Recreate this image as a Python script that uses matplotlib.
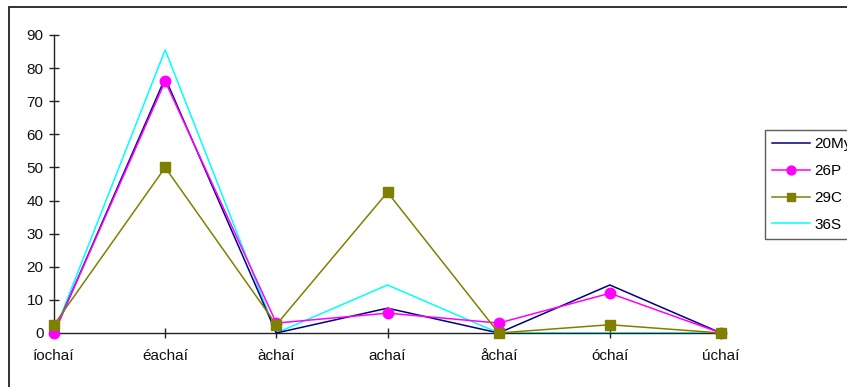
import matplotlib
matplotlib.use("Agg")
import matplotlib.pyplot as plt
from matplotlib.patches import Rectangle

plt.rcParams['font.family'] = ['Liberation Sans', 'DejaVu Sans']

categories = ["íochaí", "éachaí", "àchaí", "achaí", "åchaí", "óchaí", "úchaí"]
series_names = ["20My", "26P", "29C", "36S"]
s20My = [0, 77, 0, 7.5, 0, 14.5, 0]
s26P = [0, 76, 3, 6, 3, 12, 0]
s29C = [2.5, 50, 2.5, 42.5, 0, 2.5, 0]
s36S = [0, 85.5, 0, 14.5, 0, 0, 0]
yticks = [0, 10, 20, 30, 40, 50, 60, 70, 80, 90]

W, H = 847, 387
fig = plt.figure(figsize=(W / 100, H / 100), dpi=100)

# outer chart frame (runs off the right and bottom edges)
fig.patches.append(Rectangle((9 / W, -0.05), 1.0, 1 - 7 / H + 0.05,
                             transform=fig.transFigure, fill=False,
                             edgecolor='#222222', linewidth=1.3))

ax = fig.add_axes([54 / W, 1 - 333 / H, (721 - 54) / W, (333 - 35) / H])
x = list(range(len(categories)))

ax.plot(x, s20My, color='#000080', linewidth=1.1, label=series_names[0], zorder=3)
ax.plot(x, s26P, color='#FF00FF', linewidth=1.1, marker='o', markersize=7.5,
        label=series_names[1], zorder=4)
ax.plot(x, s29C, color='#808000', linewidth=1.1, marker='s', markersize=6.5,
        label=series_names[2], zorder=5)
ax.plot(x, s36S, color='#00FFFF', linewidth=1.1, label=series_names[3], zorder=2)

ax.set_xlim(0, len(categories) - 1)
ax.set_ylim(0, 90)
ax.set_xticks(x)
ax.set_xticklabels(categories)
ax.set_yticks(yticks)

for side in ['top', 'right']:
    ax.spines[side].set_visible(False)
for side in ['left', 'bottom']:
    ax.spines[side].set_color('#222222')
    ax.spines[side].set_linewidth(1.0)

ax.tick_params(axis='both', direction='inout', length=7, width=1.0,
               color='#222222', labelsize=11, labelcolor='#111111')
ax.tick_params(axis='y', pad=4)
ax.tick_params(axis='x', pad=8)
for t in ax.get_lines():
    t.set_clip_on(False)

leg = fig.legend(loc='upper left', bbox_to_anchor=(765 / W, 1 - 130 / H),
                 bbox_transform=fig.transFigure, frameon=True, fancybox=False,
                 fontsize=11, handlelength=2.5, handletextpad=0.3,
                 labelspacing=0.85, borderpad=0.45, borderaxespad=0,
                 markerscale=0.85)
leg.get_frame().set_edgecolor('#333333')
leg.get_frame().set_linewidth(1.0)

fig.savefig("out.png", dpi=100)
